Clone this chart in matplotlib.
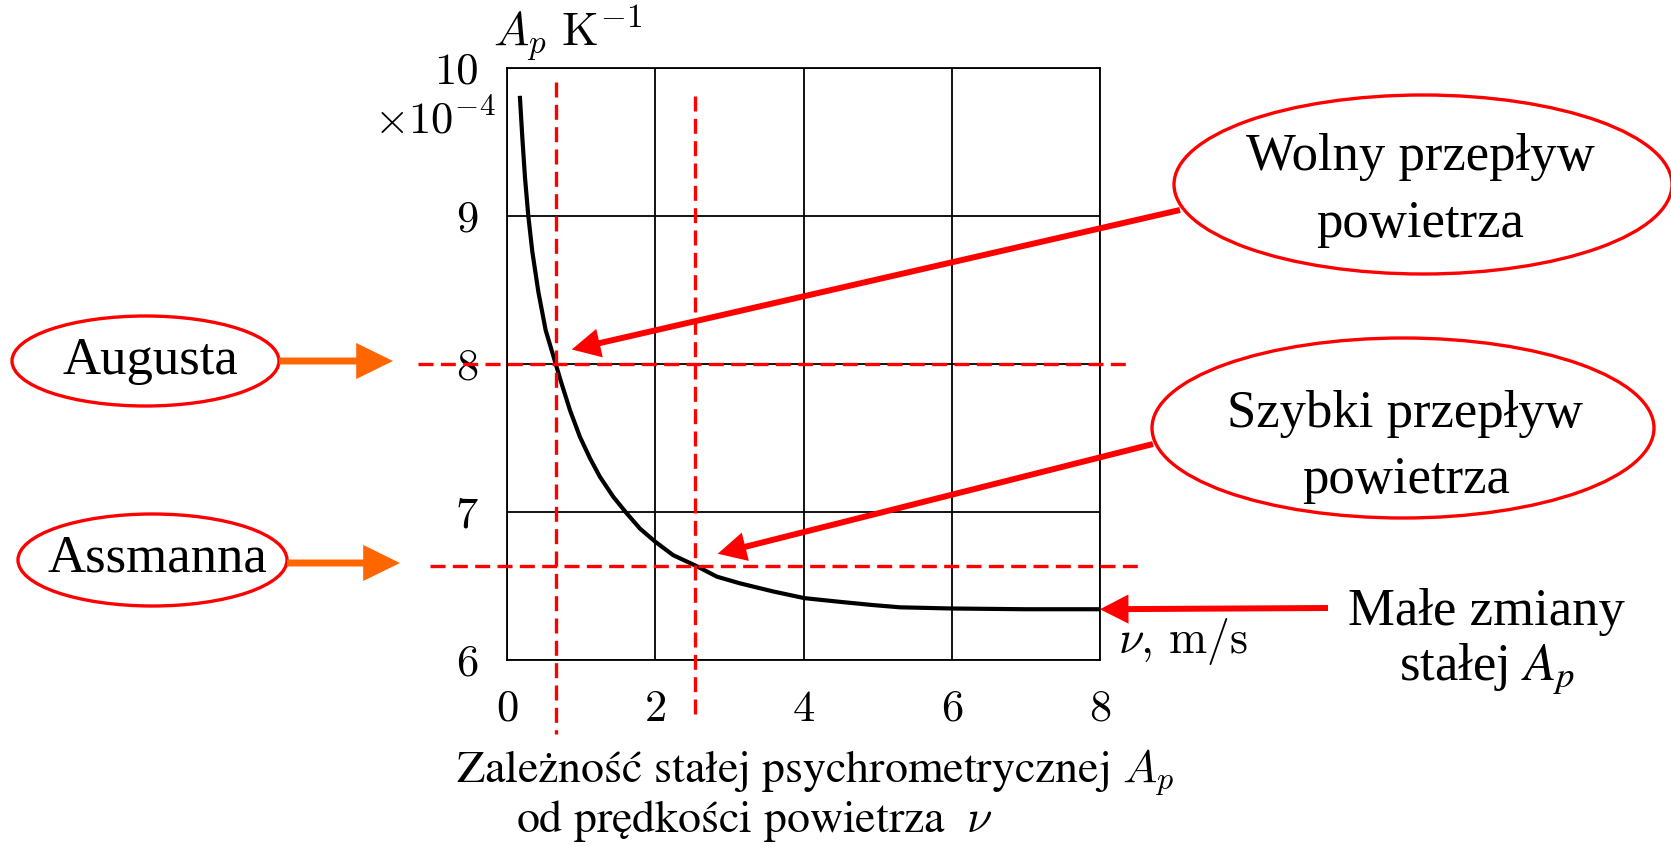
import numpy as np
import matplotlib.pyplot as plt
from matplotlib.patches import Ellipse

W, H = 1671, 846

# psychrometric constant A_p (x1e-4 1/K) versus air speed v (m/s)
speed = [0.171, 0.203, 0.239, 0.284, 0.338, 0.419, 0.518, 0.655, 0.72, 0.846,
         0.98, 1.116, 1.25, 1.43, 1.60, 1.79, 2.0, 2.24, 2.54, 2.83,
         3.14, 3.59, 4.01, 4.49, 4.94, 5.30, 6.0, 7.0, 8.0]
ap = [9.80, 9.53, 9.26, 9.0, 8.76, 8.49, 8.23, 8.0, 7.89, 7.69,
      7.51, 7.365, 7.24, 7.105, 7.0, 6.89, 6.80, 6.71, 6.64, 6.565,
      6.52, 6.465, 6.42, 6.395, 6.373, 6.358, 6.35, 6.345, 6.345]
v_ticks = [0, 2, 4, 6, 8]
a_ticks = [6, 7, 8, 9, 10]

# operating points of the two psychrometers
augusta = (0.655, 8.0)
assmann = (2.54, 6.64)

plt.rcParams['mathtext.fontset'] = 'cm'
plt.rcParams['font.family'] = ['cmr10']
plt.rcParams['axes.unicode_minus'] = False
times = ['Liberation Serif', 'DejaVu Serif']


def fx(x):
    return x / W


def fy(y):
    return 1 - y / H


fig = plt.figure(figsize=(W / 100, H / 100), dpi=100)
ax = fig.add_axes([507.3 / W, 1 - 660.3 / H, 592.7 / W, 592 / H])

ax.plot(speed, ap, color='black', lw=3.0, solid_joinstyle='round', zorder=3)
ax.set_xlim(0, 8)
ax.set_ylim(6, 10)
ax.set_xticks(v_ticks)
ax.set_yticks(a_ticks)
ax.set_xticklabels([str(t) for t in v_ticks])
ax.set_yticklabels([str(t) for t in a_ticks])
ax.tick_params(length=0, labelsize=32, pad=21)
ax.grid(color='black', lw=1.3)
for s in ax.spines.values():
    s.set_linewidth(1.3)

# dashed guide lines through both points
dash = dict(color='red', lw=2.4, linestyle=(0, (4.5, 2.2)), clip_on=False, zorder=4)
ax.plot([augusta[0], augusta[0]], [9.91, 5.50], **dash)
ax.plot([assmann[0], assmann[0]], [9.81, 5.62], **dash)
ax.plot([-1.2, 8.42], [augusta[1], augusta[1]], **dash)
ax.plot([-1.05, 8.52], [assmann[1], assmann[1]], **dash)

red_arrow = dict(facecolor='red', edgecolor='none', width=4.3,
                 headwidth=21, headlength=20.5, shrink=0)
orange_arrow = dict(facecolor='#ff6600', edgecolor='none', width=5,
                    headwidth=26, headlength=26.5, shrink=0)

ax.annotate('', xy=(0.87, 8.10), xytext=(fx(1180), fy(210)),
            textcoords='figure fraction', arrowprops=red_arrow, annotation_clip=False)
ax.annotate('', xy=(2.84, 6.72), xytext=(fx(1153), fy(444)),
            textcoords='figure fraction', arrowprops=red_arrow, annotation_clip=False)
ax.annotate('', xy=(speed[-1], ap[-1]), xytext=(fx(1328), fy(608)),
            textcoords='figure fraction', arrowprops=red_arrow, annotation_clip=False)

for y0, x0, x1 in [(361, 279, 393), (563, 287, 400)]:
    fig.add_artist(plt.Annotation('', xy=(fx(x1), fy(y0)), xycoords='figure fraction',
                                  xytext=(fx(x0), fy(y0)), textcoords='figure fraction',
                                  arrowprops=orange_arrow))

# labelled ellipses
for cx, cy, w, h in [(145.5, 361, 267, 90), (152.5, 560, 269, 92),
                     (1423, 184.5, 498, 179), (1403, 428, 502, 180)]:
    fig.add_artist(Ellipse((fx(cx), fy(cy)), w / W, h / H, transform=fig.transFigure,
                           fill=False, edgecolor='red', lw=2.4))

tkw = dict(family=times, fontsize=38, ha='center', va='baseline')
fig.text(fx(150), fy(374), 'Augusta', **tkw)
fig.text(fx(157), fy(571), 'Assmanna', **tkw)
fig.text(fx(1420), fy(170), 'Wolny przepływ', **tkw)
fig.text(fx(1420), fy(237), 'powietrza', **tkw)
fig.text(fx(1405), fy(427), 'Szybki przepływ', **tkw)
fig.text(fx(1406), fy(493), 'powietrza', **tkw)
fig.text(fx(1486), fy(625), 'Małe zmiany', **tkw)
fig.text(fx(1487), fy(680), 'stałej $A_p$', math_fontfamily='stix', **tkw)

# axis captions
fig.text(fx(493), fy(47), r'$A_p\ \mathrm{K}^{-1}$', fontsize=34, ha='left', va='baseline')
fig.text(fx(496), fy(133), r'$\times 10^{-4}$', fontsize=32, ha='right', va='baseline')
fig.text(fx(1118), fy(653), r'$\nu$, m/s', fontsize=33, ha='left', va='baseline')
ckw = dict(family=['STIXGeneral'], fontsize=33, ha='center', va='baseline')
fig.text(fx(815), fy(782), 'Zależność stałej psychrometrycznej $A_p$', **ckw)
fig.text(fx(755), fy(832), r'od prędkości powietrza  $\nu$', **ckw)

fig.savefig('out.png', dpi=100, facecolor='white')
